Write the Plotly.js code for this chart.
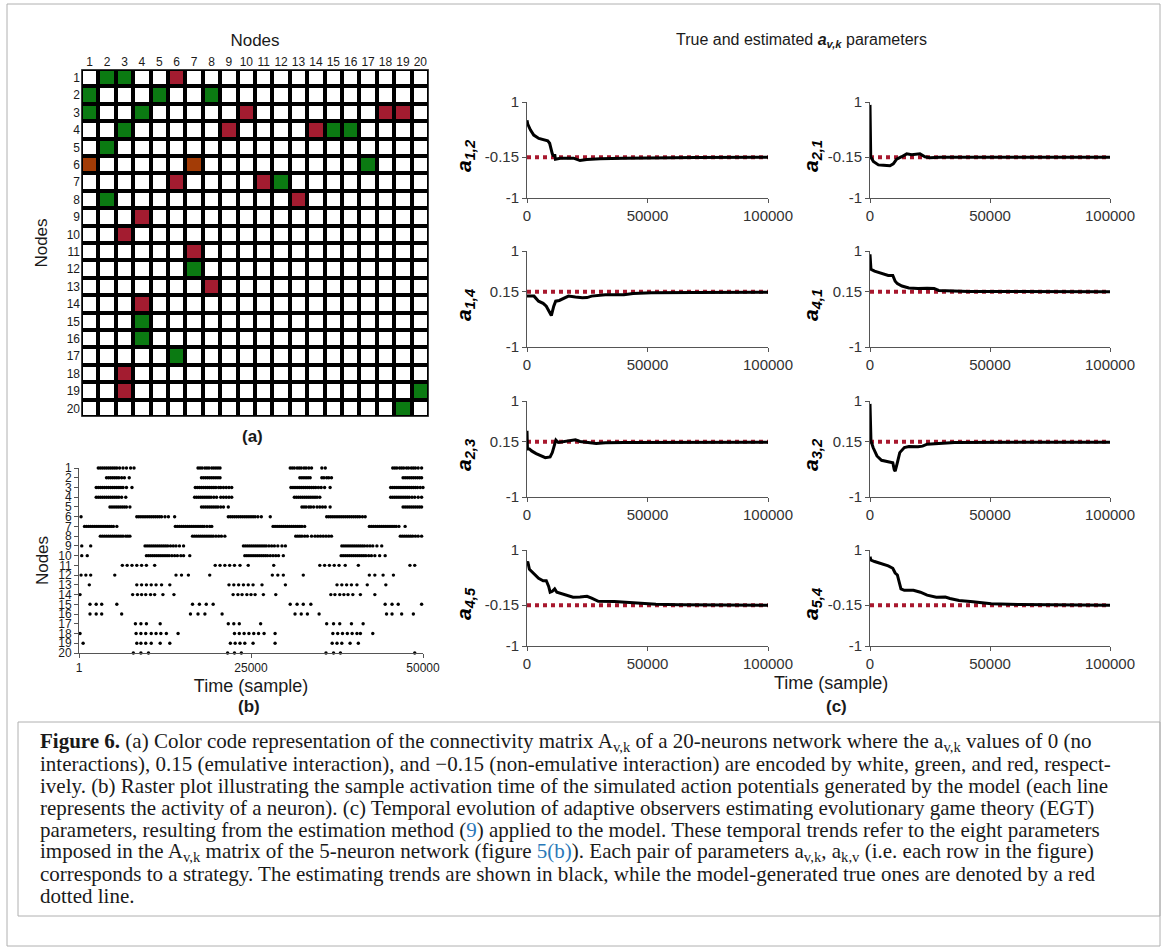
<!DOCTYPE html>
<html>
<head>
<meta charset="utf-8">
<script src="https://cdn.plot.ly/plotly-3.0.1.min.js"></script>
<style>
html,body{margin:0;padding:0;background:#fff;}
#fig{width:1167px;height:951px;}
</style>
</head>
<body>
<div id="fig"></div>
<script>
// ---------- (a) connectivity matrix of the 20-neuron network ----------
const nodeIds = [1,2,3,4,5,6,7,8,9,10,11,12,13,14,15,16,17,18,19,20];
// [row, column] of emulative (0.15) links
const greenCells = [[1,2],[1,3],[2,1],[2,5],[2,8],[3,1],[3,4],[4,3],[4,15],[4,16],[5,2],[6,17],
  [7,12],[8,2],[12,7],[15,4],[16,4],[17,6],[19,20],[20,19]];
// [row, column] of non-emulative (-0.15) links
const redCells = [[1,6],[3,10],[3,18],[3,19],[4,9],[4,14],[7,6],[7,11],[8,13],[9,4],[10,3],
  [11,7],[13,8],[14,4],[18,3],[19,3]];
// [row, column] of the two cells drawn in brown
const brownCells = [[6,1],[6,7]];

// ---------- (b) raster: spike times per node, in thousands of samples ----------
const spikesK = [
  /* 1 */ [2.8,3.1,3.4,3.7,4.0,4.3,4.6,4.9,5.2,5.5,5.9,6.4,6.9,7.5,8.0,17.3,17.6,17.9,18.3,18.6,18.9,19.3,19.6,19.9,20.2,20.5,30.7,31.0,31.3,31.7,32.0,32.3,32.7,33.0,33.4,33.8,35.3,35.8,45.6,45.9,46.2,46.6,46.9,47.2,47.6,47.9,48.3,48.6,48.9,49.3,49.8],
  /* 2 */ [4.0,4.3,4.6,4.9,5.2,5.5,5.8,6.2,6.6,7.3,17.8,18.1,18.4,18.7,19.0,19.3,19.6,19.9,20.2,20.5,32.1,32.4,32.7,33.0,33.3,33.6,35.3,35.6,36.0,36.3,36.7,47.1,47.4,47.7,48.0,48.3,48.6,48.9,49.2,49.5,49.8],
  /* 3 */ [2.5,2.8,3.1,3.4,3.7,4.0,4.3,4.6,4.9,5.2,5.5,5.8,6.1,6.4,6.9,7.7,16.9,17.2,17.5,17.8,18.1,18.4,18.7,19.0,19.3,19.6,19.9,20.3,20.6,21.0,21.4,21.8,22.2,30.8,31.1,31.4,31.7,32.0,32.3,32.6,32.9,33.2,33.5,33.8,34.1,34.4,34.8,35.2,35.7,36.5,45.3,45.6,45.9,46.2,46.5,46.8,47.1,47.4,47.7,48.0,48.3,48.6,48.9,49.2,49.6,50.0],
  /* 4 */ [2.5,2.8,3.1,3.4,3.7,4.0,4.3,4.6,4.9,5.2,5.5,5.8,6.2,6.8,16.8,17.1,17.4,17.7,18.0,18.3,18.6,18.9,19.2,19.6,20.0,20.6,21.0,21.4,21.8,22.2,31.3,31.6,31.9,32.2,32.5,32.8,33.1,33.4,33.7,34.0,34.3,34.6,35.0,45.3,45.6,45.9,46.2,46.5,46.8,47.1,47.4,47.7,48.0,48.4,48.8,49.3,49.8],
  /* 5 */ [4.5,4.8,5.1,5.4,5.7,6.0,6.3,6.6,6.9,7.4,17.8,18.1,18.4,18.7,19.0,19.3,19.6,19.9,20.2,20.6,21.0,21.7,32.4,32.7,33.0,33.4,33.7,34.1,34.6,35.0,35.4,35.8,36.5,47.1,47.4,47.7,48.0,48.3,48.6,48.9,49.2,49.5,49.8],
  /* 6 */ [0.3,8.4,8.7,9.0,9.3,9.6,9.9,10.2,10.5,10.8,11.1,11.4,11.7,12.0,12.5,13.0,13.9,21.7,22.0,22.3,22.6,22.9,23.2,23.5,23.8,24.1,24.4,24.7,25.0,25.3,25.6,26.0,26.5,27.8,36.0,36.3,36.6,36.9,37.2,37.5,37.8,38.1,38.4,38.7,39.0,39.3,39.6,39.9,40.2,40.5,40.8,41.2,41.6],
  /* 7 */ [0.8,1.1,1.4,1.7,2.0,2.3,2.6,2.9,3.2,3.5,3.8,4.1,4.4,4.7,5.0,5.5,14.0,14.3,14.6,14.9,15.2,15.5,15.8,16.1,16.4,16.7,17.0,17.3,17.6,17.9,18.2,18.6,19.0,19.3,28.2,28.5,28.8,29.1,29.4,29.7,30.0,30.3,30.6,30.9,31.2,31.5,31.8,32.1,32.4,32.8,42.2,42.5,42.8,43.1,43.4,43.7,44.0,44.3,44.6,44.9,45.2,45.5,45.8,46.1,46.5,47.4],
  /* 8 */ [3.1,3.4,3.7,4.0,4.3,4.6,4.9,5.2,5.5,5.8,6.1,6.4,6.8,7.1,7.4,16.5,16.8,17.1,17.4,17.7,18.0,18.3,18.6,18.9,19.2,19.5,19.9,20.3,20.7,21.2,31.5,31.8,32.1,32.4,32.8,33.2,33.8,34.3,34.7,35.1,35.5,35.9,36.3,36.7,46.7,47.0,47.3,47.6,47.9,48.2,48.5,48.9,49.3,49.8],
  /* 9 */ [0.4,1.7,9.6,9.9,10.2,10.5,10.8,11.1,11.4,11.7,12.0,12.3,12.6,12.9,13.3,13.7,14.1,14.6,15.2,23.9,24.2,24.5,24.8,25.1,25.4,25.7,26.0,26.3,26.6,26.9,27.2,27.6,28.0,28.4,28.9,29.5,30.0,38.2,38.5,38.8,39.1,39.4,39.7,40.0,40.3,40.6,40.9,41.2,41.5,41.9,42.3,42.7,43.3,44.0],
  /* 10 */ [0.4,1.2,9.8,10.1,10.4,10.7,11.0,11.3,11.6,11.9,12.2,12.5,12.8,13.1,13.5,13.9,14.3,14.8,15.2,16.1,24.1,24.4,24.7,25.0,25.3,25.6,25.9,26.2,26.5,26.8,27.1,27.4,27.8,28.2,28.6,29.0,29.7,38.1,38.4,38.7,39.0,39.3,39.6,39.9,40.2,40.5,40.8,41.1,41.4,41.7,42.1,42.5,43.0,43.7,44.5],
  /* 11 */ [6.3,7.0,7.7,8.4,9.1,9.8,11.0,19.8,20.5,21.2,21.9,22.6,23.4,24.6,28.3,35.0,35.7,36.4,37.1,37.8,38.7,40.6,48.1,48.8],
  /* 12 */ [0.3,1.0,1.7,5.2,14.1,14.9,15.9,19.0,28.1,28.9,29.7,32.6,42.2,43.0,44.2,45.7],
  /* 13 */ [1.5,8.4,9.1,9.8,10.5,11.2,12.0,13.2,21.8,22.5,23.2,23.9,24.6,25.3,26.6,30.0,37.5,38.2,38.9,39.6,40.4,41.9,44.6],
  /* 14 */ [0.15,7.8,8.5,9.1,9.7,10.4,11.0,12.2,13.8,22.4,23.1,23.7,24.4,25.0,25.6,26.8,28.6,36.6,37.2,37.9,38.5,39.1,39.8,40.9,43.0],
  /* 15 */ [1.6,2.5,3.3,5.5,16.5,17.5,18.5,19.5,30.7,31.7,32.6,33.7,44.5,45.5,46.4,49.8],
  /* 16 */ [1.6,2.5,3.3,6.2,16.2,17.3,18.3,20.8,31.4,32.3,33.2,34.9,44.7,45.5,46.9,48.6],
  /* 17 */ [8.2,9.0,9.8,11.8,21.7,22.5,23.3,26.4,36.0,37.0,37.9,39.6,41.3],
  /* 18 */ [0.15,8.3,9.0,9.7,10.5,11.2,11.9,12.7,14.4,22.6,23.3,24.0,24.7,25.4,26.1,26.9,28.5,36.9,37.6,38.3,39.0,39.7,40.4,40.9,42.7],
  /* 19 */ [0.6,8.4,9.0,9.7,10.5,11.8,13.2,22.0,22.7,23.4,24.1,25.3,28.5,36.8,37.5,38.2,39.4,40.6],
  /* 20 */ [7.9,9.0,10.1,21.6,22.6,23.6,35.9,37.0,38.0,48.8]
];

// ---------- (c) adaptive-observer estimates of a_{v,k} ----------
const paramLabels = ['1,2','2,1','1,4','4,1','2,3','3,2','4,5','5,4'];
const trueValues = [-0.15,-0.15,0.15,0.15,0.15,0.15,-0.15,-0.15];

const timeA12 = [0,300,1400,2800,4900,7000,8600,9400,10000,10500,11100,11500,11800,13800,19300,22000,24800,30300,40000,50000,70000,100000];
const estA12  = [0.62,0.54,0.42,0.31,0.24,0.21,0.19,0.14,0.0,-0.08,-0.13,-0.09,-0.19,-0.17,-0.17,-0.22,-0.2,-0.18,-0.17,-0.16,-0.155,-0.15];

const timeA21 = [0,300,1400,3500,5600,8300,9700,11100,13200,15300,17400,20800,22900,25000,29200,50000,100000];
const estA21  = [0.94,-0.14,-0.24,-0.31,-0.32,-0.33,-0.29,-0.19,-0.14,-0.08,-0.1,-0.08,-0.14,-0.16,-0.15,-0.15,-0.15];

const timeA14 = [0,2900,4800,6700,8000,9600,10100,11100,11900,13400,17200,20100,23000,24900,26800,32500,40200,44000,51600,68800,100000];
const estA14  = [0.06,0.06,-0.045,-0.09,-0.15,-0.32,-0.345,-0.15,-0.045,-0.03,0.06,0.04,0.024,0.03,0.06,0.087,0.087,0.115,0.13,0.136,0.143];

const timeA41 = [0,400,1900,4800,7600,9500,10500,11400,13300,16200,20000,23800,26700,28600,31400,41000,100000];
const estA41  = [0.93,0.62,0.58,0.53,0.49,0.49,0.37,0.32,0.27,0.23,0.22,0.226,0.22,0.178,0.17,0.157,0.15];

const timeA23 = [0,200,1000,1900,3800,5700,7600,9600,10500,11500,12000,13000,15300,17200,20100,22000,24900,28700,32500,40200,100000];
const estA23  = [0.38,0.0,0.0,-0.04,-0.095,-0.145,-0.18,-0.166,-0.074,0.1,0.185,0.135,0.15,0.17,0.19,0.157,0.135,0.115,0.13,0.135,0.143];

const timeA32 = [0,400,1300,2900,4800,7600,9500,10100,10500,11400,12400,14300,16200,20000,21900,23800,27600,35200,100000];
const estA32  = [0.94,0.17,0.03,-0.145,-0.236,-0.27,-0.285,-0.43,-0.46,-0.285,-0.075,0.03,0.05,0.045,0.06,0.1,0.115,0.135,0.143];

const timeA45 = [0,300,1000,2900,4800,6700,8000,9000,9600,10500,11500,12400,14300,17200,19100,22000,24900,26800,29600,36300,40200,45900,53500,63100,100000];
const estA45  = [0.72,0.76,0.6,0.5,0.41,0.36,0.36,0.24,0.12,0.14,0.19,0.12,0.09,0.05,0.015,0.02,0.036,-0.005,-0.07,-0.074,-0.09,-0.1,-0.13,-0.14,-0.15];

const timeA54 = [0,400,1900,4800,7600,9500,10500,11400,12400,12900,14300,18100,21000,23800,27600,31400,33300,37100,42900,50500,61900,100000];
const estA54  = [0.86,0.79,0.76,0.72,0.67,0.62,0.52,0.48,0.31,0.19,0.16,0.16,0.12,0.06,0.015,0.02,-0.01,-0.05,-0.08,-0.12,-0.136,-0.15];

const estTimes = [timeA12,timeA21,timeA14,timeA41,timeA23,timeA32,timeA45,timeA54];
const estValues = [estA12,estA21,estA14,estA41,estA23,estA32,estA45,estA54];

// ---------- page geometry (pixels -> paper fractions) ----------
const W = 1167, H = 951;
const PX = p => p / W;
const PY = p => 1 - p / H;
const SANS = 'Liberation Sans, Arial, sans-serif';
const SERIF = 'Liberation Serif, Times New Roman, serif';
const INK = '#1a1a1a';
const AXIS = '#555555';
const GREEN = '#0b7a12', RED = '#a31c30', BROWN = '#a33c06';
const TRUE_RED = '#a8182e';

// build the code matrix: 0 none, 1 emulative, -1 non-emulative, 2 brown
const zCodes = nodeIds.map(() => nodeIds.map(() => 0));
greenCells.forEach(([r,c]) => { zCodes[r-1][c-1] = 1; });
redCells.forEach(([r,c]) => { zCodes[r-1][c-1] = -1; });
brownCells.forEach(([r,c]) => { zCodes[r-1][c-1] = 2; });

const traces = [];
traces.push({
  type: 'heatmap', x: nodeIds, y: nodeIds, z: zCodes,
  zmin: -1, zmax: 2, xgap: 4, ygap: 4, showscale: false, hoverinfo: 'skip',
  colorscale: [[0,RED],[0.1667,RED],[0.1667,'#ffffff'],[0.5,'#ffffff'],[0.5,GREEN],[0.8333,GREEN],[0.8333,BROWN],[1,BROWN]],
  xaxis: 'x', yaxis: 'y'
});

// raster dots
const rx = [], ry = [];
spikesK.forEach((times, i) => times.forEach(t => { rx.push(Math.max(1, t * 1000)); ry.push(nodeIds[i]); }));
traces.push({
  type: 'scatter', mode: 'markers', x: rx, y: ry, xaxis: 'x2', yaxis: 'y2',
  marker: {size: 3.4, color: '#000'}, cliponaxis: false, hoverinfo: 'skip'
});

const layout = {
  width: W, height: H,
  margin: {l: 0, r: 0, t: 0, b: 0},
  paper_bgcolor: '#ffffff', plot_bgcolor: 'rgba(0,0,0,0)',
  showlegend: false,
  font: {family: SANS, color: INK},
  annotations: [], shapes: [],
  xaxis: {
    domain: [PX(81), PX(429)], anchor: 'y', side: 'top', range: [0.5, 20.5],
    tickvals: nodeIds, ticks: '', showgrid: false, zeroline: false, showline: false,
    tickfont: {size: 12, color: INK}, fixedrange: true,
    title: {text: 'Nodes', font: {size: 17, color: INK}, standoff: 3}
  },
  yaxis: {
    domain: [PY(417), PY(69)], anchor: 'x', range: [20.5, 0.5],
    tickvals: nodeIds, ticks: '', showgrid: false, zeroline: false, showline: false,
    tickfont: {size: 12, color: INK}, fixedrange: true,
    title: {text: 'Nodes', font: {size: 17, color: INK}, standoff: 14}
  },
  xaxis2: {
    domain: [PX(79), PX(423)], anchor: 'y2', range: [1, 50000],
    tickvals: [1, 25000, 50000], tickformat: 'd', ticks: 'outside', ticklen: 4,
    tickcolor: AXIS, showline: true, linecolor: AXIS, linewidth: 1,
    showgrid: false, zeroline: false, tickfont: {size: 12, color: INK},
    title: {text: 'Time (sample)', font: {size: 18, color: INK}, standoff: 4}
  },
  yaxis2: {
    domain: [PY(653), PY(468)], anchor: 'x2', range: [20, 1],
    tickvals: nodeIds, ticks: 'outside', ticklen: 4, tickcolor: AXIS,
    showline: true, linecolor: AXIS, linewidth: 1, showgrid: false, zeroline: false,
    tickfont: {size: 12, color: INK},
    title: {text: 'Nodes', font: {size: 17, color: INK}, standoff: 5}
  }
};

// black backing behind the matrix cells (shows through the gaps)
layout.shapes.push({type: 'rect', xref: 'x', yref: 'y', x0: 0.5, x1: 20.5, y0: 0.5, y1: 20.5,
  fillcolor: '#000', line: {color: '#777', width: 1}, layer: 'below'});

// (c) small multiples
const colX = [[527, 768], [870, 1110]];
const rowTop = [102, 251, 401, 550];
const panelH = 96;
const labelX = [465, 812];
paramLabels.forEach((lab, i) => {
  const row = Math.floor(i / 2), col = i % 2, n = i + 3;
  const xa = 'x' + n, ya = 'y' + n;
  const tv = trueValues[i];
  traces.push({type: 'scatter', mode: 'lines', x: [0, 100000], y: [tv, tv], xaxis: xa, yaxis: ya,
    line: {color: TRUE_RED, width: 4, dash: 'dot'}, hoverinfo: 'skip'});
  traces.push({type: 'scatter', mode: 'lines', x: estTimes[i], y: estValues[i], xaxis: xa, yaxis: ya,
    line: {color: '#000', width: 3, shape: 'linear'}, hoverinfo: 'skip'});
  layout['xaxis' + n] = {
    domain: [PX(colX[col][0]), PX(colX[col][1])], anchor: ya, range: [0, 100000],
    tickvals: [0, 50000, 100000], tickformat: 'd', ticks: 'outside', ticklen: 4, tickcolor: AXIS,
    showline: true, linecolor: AXIS, linewidth: 1, showgrid: false, zeroline: false,
    tickfont: {size: 15, color: '#333'}
  };
  layout['yaxis' + n] = {
    domain: [PY(rowTop[row] + panelH), PY(rowTop[row])], anchor: xa, range: [-1, 1],
    tickvals: [-1, tv, 1], ticktext: ['-1', String(tv), '1'], ticks: 'outside', ticklen: 4, tickcolor: AXIS,
    showline: true, linecolor: AXIS, linewidth: 1, showgrid: false, zeroline: false,
    tickfont: {size: 15, color: '#333'}
  };
  layout.annotations.push({
    xref: 'paper', yref: 'paper', x: PX(labelX[col]), y: PY(rowTop[row] + panelH / 2 + 6),
    text: '<b><i>a</i></b><sub><b><i>' + lab + '</i></b></sub>', textangle: -90, showarrow: false,
    font: {size: 21, color: '#000'}, xanchor: 'center', yanchor: 'middle'
  });
});

// panel headings and letters
const A = (x, y, text, size, extra) => Object.assign({xref: 'paper', yref: 'paper', x: PX(x), y: PY(y),
  text, showarrow: false, font: {size, color: INK, family: SANS}, xanchor: 'center', yanchor: 'middle'}, extra || {});
layout.annotations.push(A(801, 41, 'True and estimated <b><i>a</i></b><sub><b><i>v,k</i></b></sub> parameters', 16));
layout.annotations.push(A(252, 436, '<b>(a)</b>', 17));
layout.annotations.push(A(249, 706, '<b>(b)</b>', 17));
layout.annotations.push(A(831, 683, 'Time (sample)', 18));
layout.annotations.push(A(836, 706, '<b>(c)</b>', 17));

// caption
const LINK = '#2a78b8';
const captionLines = [
  '<b>Figure 6.</b> (a) Color code representation of the connectivity matrix A<sub>v,k</sub> of a 20-neurons network where the a<sub>v,k</sub> values of 0 (no',
  'interactions), 0.15 (emulative interaction), and \u22120.15 (non-emulative interaction) are encoded by white, green, and red, respect-',
  'ively. (b) Raster plot illustrating the sample activation time of the simulated action potentials generated by the model (each line',
  'represents the activity of a neuron). (c) Temporal evolution of adaptive observers estimating evolutionary game theory (EGT)',
  'parameters, resulting from the estimation method (<span style="color:' + LINK + '">9</span>) applied to the model. These temporal trends refer to the eight parameters',
  'imposed in the A<sub>v,k</sub> matrix of the 5-neuron network (figure <span style="color:' + LINK + '">5(b)</span>). Each pair of parameters a<sub>v,k</sub>, a<sub>k,v</sub> (i.e. each row in the figure)',
  'corresponds to a strategy. The estimating trends are shown in black, while the model-generated true ones are denoted by a red',
  'dotted line.'
];
captionLines.forEach((t, i) => {
  layout.annotations.push({xref: 'paper', yref: 'paper', x: PX(38), y: PY(742 + 22 * i), text: t,
    showarrow: false, xanchor: 'left', yanchor: 'middle', align: 'left',
    font: {size: 21, color: '#1a1a1a', family: SERIF}});
});

// frames
layout.shapes.push({type: 'rect', xref: 'paper', yref: 'paper', x0: PX(7), x1: PX(1160), y0: PY(946), y1: PY(4),
  line: {color: '#b0b0b0', width: 1}, fillcolor: 'rgba(0,0,0,0)'});
layout.shapes.push({type: 'rect', xref: 'paper', yref: 'paper', x0: PX(18), x1: PX(1160), y0: PY(916), y1: PY(722),
  line: {color: '#b0b0b0', width: 1}, fillcolor: 'rgba(0,0,0,0)'});

Plotly.newPlot('fig', traces, layout, {staticPlot: true, displayModeBar: false});
</script>
</body>
</html>
